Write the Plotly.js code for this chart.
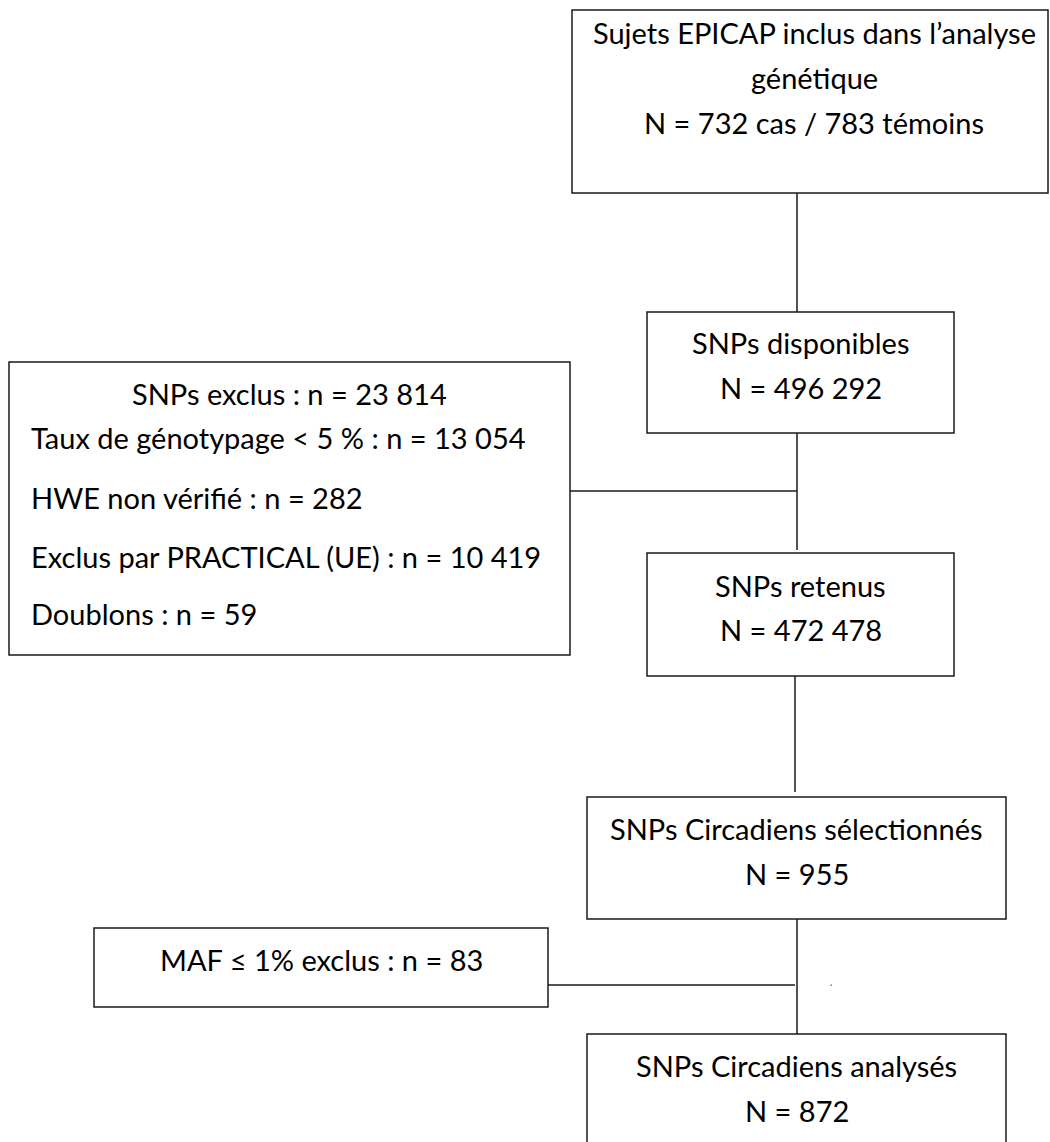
<!DOCTYPE html>
<html>
<head>
<meta charset="utf-8">
<script src="https://cdn.plot.ly/plotly-3.0.1.min.js"></script>
<style>
  html, body { margin: 0; padding: 0; background: #ffffff; }
  #chart { width: 1050px; height: 1142px; }
</style>
</head>
<body>
<div id="chart"></div>
<script>
// ---- Data (text content of the flowchart) ----
const stageTitles = [
  ["Sujets EPICAP inclus dans l’analyse", "génétique"],
  ["SNPs disponibles"],
  ["SNPs retenus"],
  ["SNPs Circadiens sélectionnés"],
  ["SNPs Circadiens analysés"]
];
const stageCounts = ["732 cas / 783 témoins", "496 292", "472 478", "955", "872"];

const exclusionTitle = "SNPs exclus";
const exclusionTotal = "23 814";
const exclusionReasons = ["Taux de génotypage < 5 %", "HWE non vérifié", "Exclus par PRACTICAL (UE)", "Doublons"];
const exclusionCounts = ["13 054", "282", "10 419", "59"];

const mafLabel = "MAF ≤ 1% exclus";
const mafCount = "83";

// ---- Layout geometry (pixel space, y downward) ----
const stageBoxes = [
  {x0: 572, x1: 1048, y0: 10,   y1: 193,  lines: [32, 77, 122]},
  {x0: 647, x1: 954,  y0: 312,  y1: 433,  lines: [342, 387]},
  {x0: 647, x1: 954,  y0: 553,  y1: 676,  lines: [585, 629]},
  {x0: 587, x1: 1006, y0: 797,  y1: 919,  lines: [828, 873]},
  {x0: 587, x1: 1006, y0: 1034, y1: 1170, lines: [1065, 1110]}
];
const exclBox = {x0: 9, x1: 570, y0: 362, y1: 655, titleY: 393, textX: 29, lineYs: [437, 497, 556, 613]};
const mafBox = {x0: 94, x1: 548, y0: 928, y1: 1007, textY: 959};
const connectors = [
  [797, 193, 797, 312],
  [797, 433, 797, 550],
  [570, 491, 797, 491],
  [795, 676, 795, 792],
  [797, 919, 797, 1034],
  [548, 985, 795, 985]
];

const FONT = "Lato, 'Open Sans', 'Noto Sans', sans-serif";
const FS = 29;
const lineStyle = {color: '#1a1a1a', width: 1.5};

const shapes = [];
const annotations = [];

function addBox(b) {
  shapes.push({type: 'rect', xref: 'x', yref: 'y', x0: b.x0, x1: b.x1, y0: b.y0, y1: b.y1,
               line: lineStyle, fillcolor: 'rgba(0,0,0,0)', layer: 'above'});
}
function addText(txt, x, y, anchor) {
  annotations.push({text: txt, x: x, y: y, xref: 'x', yref: 'y', showarrow: false,
                    xanchor: anchor, yanchor: 'middle',
                    font: {family: FONT, size: FS, color: '#000000'}});
}

stageBoxes.forEach((b, i) => {
  addBox(b);
  const cx = (b.x0 + b.x1) / 2;
  const lines = stageTitles[i].concat(["N = " + stageCounts[i]]);
  lines.forEach((t, k) => addText(t, cx + (i === 0 ? 4 : 0), b.lines[k], 'center'));
});

addBox(exclBox);
addText(exclusionTitle + " : n = " + exclusionTotal, (exclBox.x0 + exclBox.x1) / 2, exclBox.titleY, 'center');
exclusionReasons.forEach((r, k) => addText(r + " : n = " + exclusionCounts[k], exclBox.textX, exclBox.lineYs[k], 'left'));

addBox(mafBox);
addText(mafLabel + " : n = " + mafCount, (mafBox.x0 + mafBox.x1) / 2, mafBox.textY, 'center');

connectors.forEach(c => shapes.push({type: 'line', xref: 'x', yref: 'y', x0: c[0], y0: c[1], x1: c[2], y1: c[3], line: lineStyle}));
// tiny stray dot from the original
shapes.push({type: 'rect', xref: 'x', yref: 'y', x0: 830.5, x1: 831.8, y0: 984.5, y1: 985.8, line: {width: 0}, fillcolor: '#444'});

const layout = {
  width: 1050, height: 1142,
  margin: {l: 0, r: 0, t: 0, b: 0, pad: 0},
  paper_bgcolor: '#ffffff', plot_bgcolor: '#ffffff',
  xaxis: {range: [0, 1050], visible: false, fixedrange: true},
  yaxis: {range: [1142, 0], visible: false, fixedrange: true},
  showlegend: false,
  shapes: shapes,
  annotations: annotations
};

Plotly.newPlot('chart', [], layout, {displayModeBar: false, staticPlot: true});
</script>
</body>
</html>
